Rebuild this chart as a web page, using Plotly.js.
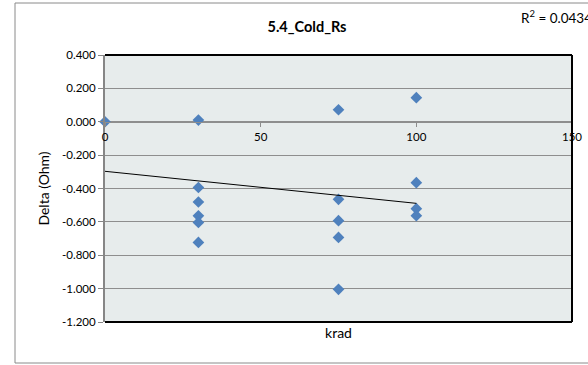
<!DOCTYPE html>
<html>
<head>
<meta charset="utf-8">
<script src="https://cdn.plot.ly/plotly-3.0.1.min.js"></script>
<style>html,body{margin:0;padding:0;background:#fff;}#chart{width:588px;height:365px;}</style>
</head>
<body>
<div id="chart"></div>
<script>
// Data
var kradX = [0, 30, 30, 30, 30, 30, 30, 75, 75, 75, 75, 75, 100, 100, 100, 100];
var deltaY = [0.000, 0.010, -0.394, -0.481, -0.564, -0.603, -0.723, 0.072, -0.465, -0.593, -0.693, -1.004, 0.144, -0.365, -0.521, -0.563];
var trendX = [0, 100];
var trendY = [-0.297, -0.489];
var yTickVals = [0.4, 0.2, 0.0, -0.2, -0.4, -0.6, -0.8, -1.0, -1.2];
var yTickText = ["0.400", "0.200", "0.000", "-0.200", "-0.400", "-0.600", "-0.800", "-1.000", "-1.200"];
var xTickVals = [0, 50, 100, 150];
var xTickText = ["0", "50", "100", "150"];
var chartTitle = "5.4_Cold_Rs";
var r2Text = "R<sup>2</sup> = 0.0434";

var FONT = "Lato, 'Open Sans', sans-serif";
var W = 588, H = 365, L = 105, R = 16, T = 55, B = 43;
var pw = W - L - R, ph = H - T - B;
function px(x) { return (x - L) / pw; }
function py(y) { return (H - B - y) / ph; }

var traces = [
  {
    x: kradX, y: deltaY, type: 'scatter', mode: 'markers',
    xaxis: 'x', yaxis: 'y', cliponaxis: false,
    marker: {symbol: 'diamond', size: 9, color: '#4F81BD', line: {width: 0}},
    hoverinfo: 'x+y'
  },
  {
    x: trendX, y: trendY, type: 'scatter', mode: 'lines',
    xaxis: 'x2', yaxis: 'y',
    line: {color: '#000000', width: 1},
    hoverinfo: 'skip'
  }
];

var layout = {
  width: W, height: H,
  margin: {l: L, r: R, t: T, b: B, pad: 0},
  paper_bgcolor: '#ffffff',
  plot_bgcolor: '#E7ECEC',
  showlegend: false,
  font: {family: FONT, size: 11, color: '#000'},
  title: {
    text: '<b>' + chartTitle + '</b>',
    font: {family: FONT, size: 14.5, color: '#000'},
    xref: 'container', x: 307 / W, xanchor: 'center',
    yref: 'container', y: 1 - 27 / H, yanchor: 'middle'
  },
  xaxis: {
    domain: [0, 1], range: [0, 150],
    showgrid: false, zeroline: false, showline: false,
    showticklabels: false, ticks: '',
    title: {text: 'krad', font: {family: FONT, size: 14, color: '#000'}, standoff: 6},
    automargin: false
  },
  xaxis2: {
    overlaying: 'x', matches: 'x', range: [0, 150],
    anchor: 'free', position: 0.75, side: 'bottom',
    showgrid: false, zeroline: false,
    showline: true, linecolor: '#8E8E8E', linewidth: 1,
    tickmode: 'array', tickvals: xTickVals, ticktext: xTickText,
    ticks: 'outside', ticklen: 4, tickcolor: '#8C8C8C',
    tickfont: {family: FONT, size: 11.5, color: '#000'}
  },
  yaxis: {
    domain: [0, 1], range: [-1.2, 0.4],
    tickmode: 'array', tickvals: yTickVals, ticktext: yTickText,
    showgrid: true, gridcolor: '#8E8E8E', gridwidth: 1,
    zeroline: false,
    showline: true, linecolor: '#868686', linewidth: 2,
    ticks: 'outside', ticklen: 5, tickcolor: '#868686',
    tickfont: {family: FONT, size: 11.5, color: '#000'},
    title: {text: 'Delta (Ohm)', font: {family: FONT, size: 14, color: '#000'}, standoff: 9},
    automargin: false
  },
  shapes: [
    {type: 'rect', xref: 'paper', yref: 'paper', x0: px(15), x1: px(620), y0: py(363), y1: py(3),
     line: {color: '#8A8A8A', width: 1}, fillcolor: 'rgba(0,0,0,0)', layer: 'below'},
    {type: 'line', xref: 'paper', yref: 'paper', x0: 0, x1: 1, y0: 1, y1: 1, line: {color: '#000', width: 2}},
    {type: 'line', xref: 'paper', yref: 'paper', x0: 1, x1: 1, y0: 0, y1: 1, line: {color: '#000', width: 2}},
    {type: 'line', xref: 'paper', yref: 'paper', x0: 0, x1: 1, y0: 0, y1: 0, line: {color: '#000', width: 2}}
  ],
  annotations: [
    {text: r2Text, xref: 'paper', yref: 'paper', x: px(519), y: py(17),
     xanchor: 'left', yanchor: 'middle', showarrow: false,
     font: {family: FONT, size: 13.5, color: '#000'}}
  ]
};

Plotly.newPlot('chart', traces, layout, {displayModeBar: false, staticPlot: true});
</script>
</body>
</html>
